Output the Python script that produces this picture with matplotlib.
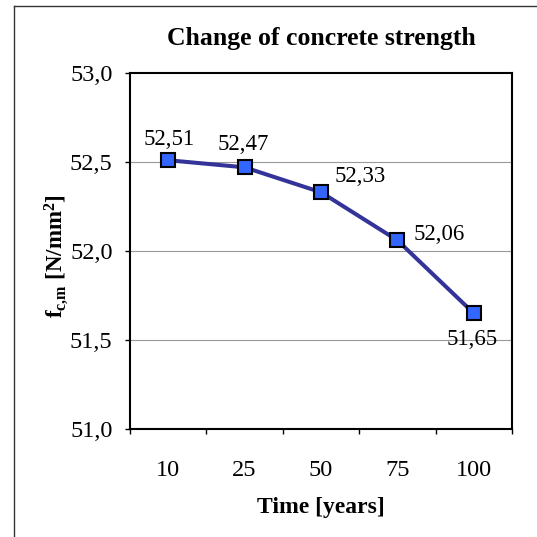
import matplotlib
matplotlib.use("Agg")
import matplotlib.pyplot as plt
from matplotlib.lines import Line2D

categories = ["10", "25", "50", "75", "100"]
values = [52.51, 52.47, 52.33, 52.06, 51.65]
value_labels = ["52,51", "52,47", "52,33", "52,06", "51,65"]
yticks = [51.0, 51.5, 52.0, 52.5, 53.0]
ytick_labels = ["51,0", "51,5", "52,0", "52,5", "53,0"]
# label offsets in points (dx, dy)
label_offsets = [(0.5, 15), (-1, 16.5), (28.5, 11.5), (30, 4), (-1, -19)]

plt.rcParams['font.family'] = ['Liberation Serif', 'DejaVu Serif']
plt.rcParams['mathtext.fontset'] = 'custom'
plt.rcParams['mathtext.rm'] = 'Liberation Serif'
plt.rcParams['mathtext.bf'] = 'Liberation Serif:bold'
plt.rcParams['mathtext.it'] = 'Liberation Serif:italic'

fig = plt.figure(figsize=(5.37, 5.37), dpi=100)
ax = fig.add_axes([130/537, 1-429/537, (512-130)/537, (429-73)/537])

x = list(range(len(categories)))
ax.plot(x, values, color='#333399', lw=2.9, marker='s', ms=9.5,
        mfc='#3366FF', mec='black', mew=1.5, zorder=3)

for xi, v, lab, (dx, dy) in zip(x, values, value_labels, label_offsets):
    ax.annotate(lab, (xi, v), xytext=(dx, dy), textcoords='offset points',
                ha='center', va='center', fontsize=16.5)

ax.set_ylim(51.0, 53.0)
ax.set_xlim(-0.5, len(categories) - 0.5)
ax.set_yticks(yticks)
ax.set_yticklabels(ytick_labels, fontsize=17.5)
ax.set_xticks([i - 0.5 for i in range(len(categories) + 1)])
ax.set_xticklabels([])
ax.set_xticks(x, minor=True)
ax.set_xticklabels(categories, minor=True, fontsize=17.5)
ax.tick_params(axis='x', which='minor', length=0, pad=22)
ax.tick_params(axis='x', which='major', direction='out', length=3.6, width=1)
ax.tick_params(axis='y', direction='out', length=3.6, width=1, pad=9)

for gy in yticks[1:-1]:
    ax.axhline(gy, color='#999999', lw=0.8, zorder=1)

for s in ax.spines.values():
    s.set_linewidth(1.5)
    s.set_color('black')

ax.set_title("Change of concrete strength", fontsize=18.5, fontweight='bold', pad=20)
ax.set_xlabel("Time [years]", fontsize=17, fontweight='bold', labelpad=12)
ax.set_ylabel(r"$\mathbf{f_{c{,}m}}$ [N/mm$^{\mathbf{2}}$]", fontsize=16.5,
              fontweight='bold', labelpad=0)
ax.yaxis.label.set_y(0.486)

fig.add_artist(Line2D([14/537, 14/537], [0, 1-6/537], color='#333333', lw=1.0))
fig.add_artist(Line2D([14/537, 1], [1-6/537, 1-6/537], color='#333333', lw=1.0))

fig.savefig("out.png", dpi=100)
